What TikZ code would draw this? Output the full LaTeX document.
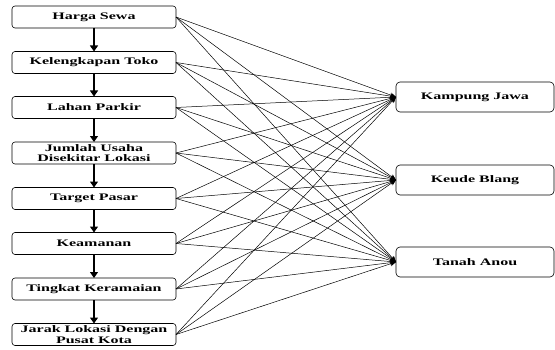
\documentclass[tikz,border=0pt]{standalone}
\usepackage{fontspec}
\setmainfont[FakeStretch=1.6]{Liberation Serif}
\usetikzlibrary{arrows.meta}
\begin{document}
\begin{tikzpicture}[x=1pt,y=1pt,
  lbox/.style={draw, rounded corners=3pt, minimum width=164pt, minimum height=22pt, inner sep=0pt, outer sep=0pt, align=center, font=\fontsize{10}{10.5}\selectfont\bfseries, line width=0.6pt},
  rbox/.style={draw, rounded corners=4pt, minimum width=158pt, minimum height=30pt, inner sep=0pt, outer sep=0pt, align=center, font=\fontsize{10}{10.5}\selectfont\bfseries, line width=0.6pt},
  down/.style={-{Triangle[length=6pt,width=8pt]}, line width=1.2pt},
  link/.style={-{Stealth[length=6pt,width=5pt]}, line width=0.5pt}]
\useasboundingbox (0,0) rectangle (555,349);
\node[lbox] (a1) at (94,332) {Harga Sewa};
\node[lbox] (a2) at (94,286.5) {Kelengkapan Toko};
\node[lbox] (a3) at (94,241.5) {Lahan Parkir};
\node[lbox] (a4) at (94,196) {Jumlah Usaha\\Disekitar Lokasi};
\node[lbox] (a5) at (94,150.5) {Target Pasar};
\node[lbox] (a6) at (94,105.5) {Keamanan};
\node[lbox] (a7) at (94,60) {Tingkat Keramaian};
\node[lbox] (a8) at (94,14.5) {Jarak Lokasi Dengan\\Pusat Kota};
\node[rbox] (b1) at (475,252) {Kampung Jawa};
\node[rbox] (b2) at (475,169) {Keude Blang};
\node[rbox] (b3) at (475,87) {Tanah Anou};
\foreach \i/\j in {1/2,2/3,3/4,4/5,5/6,6/7,7/8} \draw[down] (a\i.south) -- (a\j.north);
\foreach \i in {1,...,8} \foreach \j in {1,2,3} \draw[link] (a\i.east) -- (b\j.west);
\end{tikzpicture}
\end{document}
